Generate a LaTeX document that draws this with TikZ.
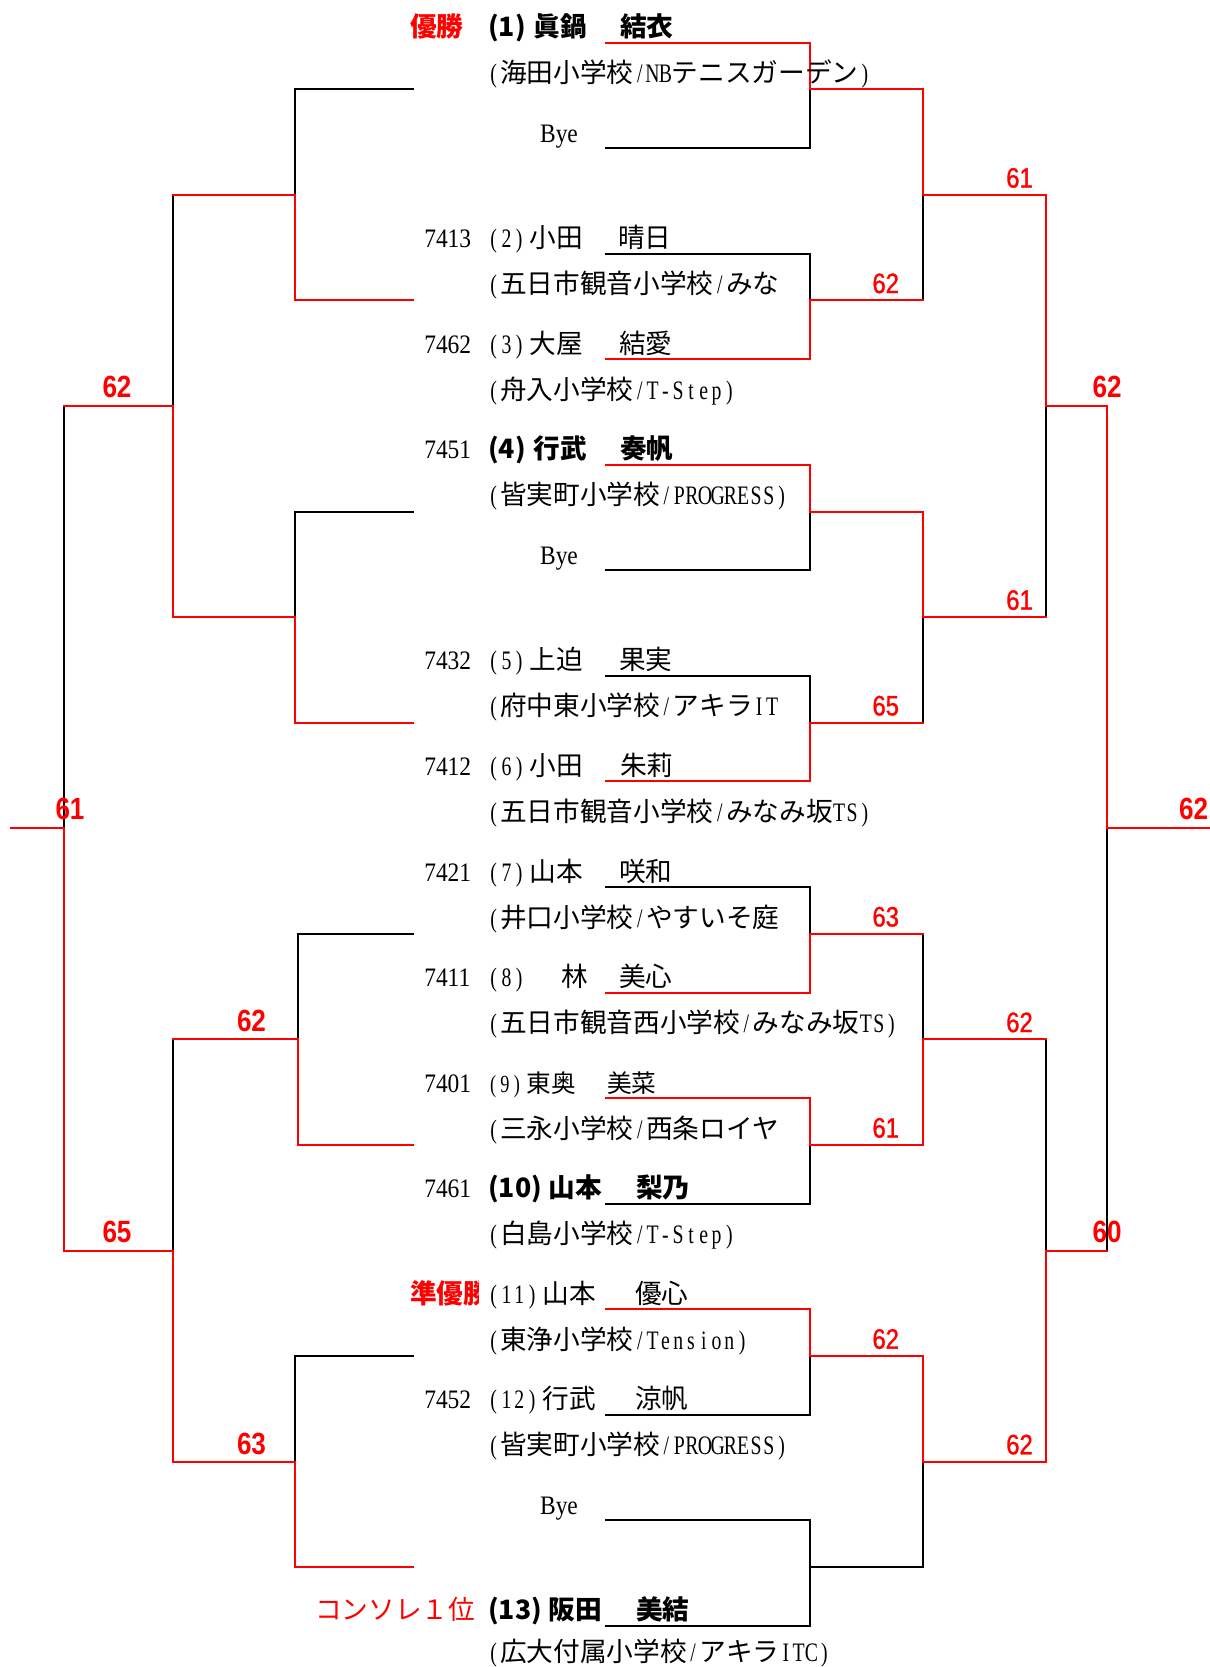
\documentclass[tikz,border=0pt]{standalone}
\usepackage{fontspec}
\newfontfamily\jp{Noto Sans CJK JP}
\newfontfamily\lat[FakeStretch=0.88]{Liberation Serif}
\newfontfamily\latc[FakeStretch=0.74]{Liberation Serif}
\newfontfamily\scf[FakeStretch=0.85,FakeBold=1.2]{Liberation Sans}
\newfontfamily\scbf[FakeStretch=0.85]{Liberation Sans Bold}
\definecolor{rd}{RGB}{255,0,0}
\makeatletter
\newcommand\mono[1]{\@tfor\@mc:=#1\do{\makebox[0.48em]{\latc\@mc}}}
\makeatother
\newcommand\sd[1]{\mono{(#1)}\kern3pt}
\tikzset{
  ln/.style={line width=1.5pt, line cap=rect},
  bl/.style={ln, black},
  rl/.style={ln, rd},
  txt/.style={inner sep=0pt, anchor=base west, font=\jp\fontsize{20}{24}\selectfont},
  btxt/.style={txt, font=\jp\bfseries\fontsize{20}{24}\selectfont},
  stxt/.style={txt, font=\jp\fontsize{18.5}{22}\selectfont},
  idtxt/.style={inner sep=0pt, anchor=base west, font=\lat\fontsize{20}{24}\selectfont},
  byetxt/.style={inner sep=0pt, anchor=base, font=\lat\fontsize{20}{24}\selectfont},
  rlab/.style={inner sep=0pt, anchor=base west, text=rd, font=\jp\fontsize{20}{24}\selectfont},
  rblab/.style={rlab, font=\jp\bfseries\fontsize{20}{24}\selectfont},
  sc/.style={inner sep=0pt, text=rd, font=\scf\fontsize{21}{22}\selectfont},
  scb/.style={inner sep=0pt, text=rd, font=\scbf\fontsize{23}{24}\selectfont}
}
\begin{document}
\begin{tikzpicture}[x=0.75pt,y=-0.75pt]
\useasboundingbox (0,0) rectangle (1210,1667);
% ---- y levels
\foreach \k in {0,...,15} {\coordinate (S\k) at (0,{42.5+105.56*\k});}
\foreach \j in {0,...,7} {\coordinate (M\j) at (0,{89.3+211.12*\j});}
\foreach \i in {0,...,3} {\coordinate (R\i) at (0,{194.9+422.24*\i});}
\coordinate (T0) at (0,406);
\coordinate (T1) at (0,1250.5);
\coordinate (F) at (0,828.3);
% ---- x levels
\coordinate (xA) at (606,0);
\coordinate (xB) at (810,0);
\coordinate (xC) at (923,0);
\coordinate (xD) at (1046.3,0);
\coordinate (xE) at (1106.9,0);
\coordinate (xF) at (1210,0);
\coordinate (xa) at (412.6,0);
\coordinate (xb) at (294.5,0);
\coordinate (xbb) at (297.7,0);
\coordinate (xc) at (173.3,0);
\coordinate (xd) at (63.8,0);
\coordinate (xe) at (10.6,0);

% ================= black lines =================
% right side
\foreach \k in {1,2,5,6,8,11,13,14,15} {\draw[bl] (xA|-S\k) -- (xB|-S\k);}
\foreach \a/\b in {M0/S1,S2/M1,M2/S5,S6/M3,S8/M4,M5/S11,M6/S13,S14/S15} {\draw[bl] (xB|-\a) -- (xB|-\b);}
\draw[bl] (xB|-M7) -- (xC|-M7);
\foreach \a/\b in {R0/M1,R1/M3,M4/R2,R3/M7} {\draw[bl] (xC|-\a) -- (xC|-\b);}
\draw[bl] (xD|-T0) -- (xD|-R1);
\draw[bl] (xD|-R2) -- (xD|-T1);
\draw[bl] (xE|-F) -- (xE|-T1);
% left side
\foreach \j/\x in {M0/xb,M2/xb,M4/xbb,M6/xb} {\draw[bl] (xa|-\j) -- (\x|-\j);}
\foreach \a/\b/\x in {M0/R0/xb,M2/R1/xb,M4/R2/xbb,M6/R3/xb} {\draw[bl] (\x|-\a) -- (\x|-\b);}
\draw[bl] (xc|-R0) -- (xc|-T0);
\draw[bl] (xc|-R2) -- (xc|-T1);
\draw[bl] (xd|-T0) -- (xd|-F);

% ================= red lines =================
% right side
\foreach \k in {0,3,4,7,9,10,12} {\draw[rl] (xA|-S\k) -- (xB|-S\k);}
\foreach \a/\b in {S0/M0,M1/S3,S4/M2,M3/S7,M4/S9,S10/M5,S12/M6} {\draw[rl] (xB|-\a) -- (xB|-\b);}
\foreach \j in {0,...,6} {\draw[rl] (xB|-M\j) -- (xC|-M\j);}
\foreach \a/\b in {M0/R0,M2/R1,R2/M5,M6/R3} {\draw[rl] (xC|-\a) -- (xC|-\b);}
\foreach \i in {0,...,3} {\draw[rl] (xC|-R\i) -- (xD|-R\i);}
\draw[rl] (xD|-R0) -- (xD|-T0);
\draw[rl] (xD|-T1) -- (xD|-R3);
\draw[rl] (xD|-T0) -- (xE|-T0);
\draw[rl] (xD|-T1) -- (xE|-T1);
\draw[rl] (xE|-T0) -- (xE|-F);
\draw[rl] (xE|-F) -- (xF|-F);
% left side
\foreach \j/\x in {M1/xb,M3/xb,M5/xbb,M7/xb} {\draw[rl] (xa|-\j) -- (\x|-\j);}
\foreach \a/\b/\x in {R0/M1/xb,R1/M3/xb,R2/M5/xbb,R3/M7/xb} {\draw[rl] (\x|-\a) -- (\x|-\b);}
\foreach \i/\x in {R0/xb,R1/xb,R2/xbb,R3/xb} {\draw[rl] (\x|-\i) -- (xc|-\i);}
\draw[rl] (xc|-T0) -- (xc|-R1);
\draw[rl] (xc|-T1) -- (xc|-R3);
\draw[rl] (xc|-T0) -- (xd|-T0);
\draw[rl] (xc|-T1) -- (xd|-T1);
\draw[rl] (xd|-F) -- (xd|-T1);
\draw[rl] (xd|-F) -- (xe|-F);

% ================= scores =================
\node[sc] (c1) at (885.7,283.4) {62};
\node[sc] (c2) at (885.7,705.7) {65};
\node[sc] (c3) at (885.7,916.8) {63};
\node[sc] (c4) at (885.7,1127.9) {61};
\node[sc] (c5) at (885.7,1339) {62};
\node[sc] (d1) at (1019.5,177.9) {61};
\node[sc] (d2) at (1019.5,600.1) {61};
\node[sc] (d3) at (1019.5,1022.4) {62};
\node[sc] (d4) at (1019.5,1444.6) {62};
\node[scb] (e1) at (1107,387) {62};
\node[scb] (e2) at (1107,1231.5) {60};
\node[scb] (f1) at (1193.5,809.3) {62};
\node[scb] (l1) at (251.5,1021.4) {62};
\node[scb] (l2) at (251.5,1443.6) {63};
\node[scb] (l3) at (117,387) {62};
\node[scb] (l4) at (117,1231.5) {65};
\node[scb] (l5) at (70,809.3) {61};

% ================= players =================
% slot 0
\node[rblab] (w0) at (410,36.5) {優勝};
\node[btxt] (n0) at (488,36.5) {(1)\kern6pt眞鍋};
\node[btxt] (g0) at (620,36.5) {結衣};
\node[txt] (h0) at (487,82.5) {\mono{(}海田小学校\mono{/NB}テニスガーデン\mono{)}};
% slot 1
\node[byetxt] (b1) at (559,142) {Bye};
% slot 2
\node[idtxt] (i2) at (424,247.6) {7413};
\node[txt] (n2) at (487,247.6) {\sd{2}小田};
\node[txt] (g2) at (618,247.6) {晴日};
\node[txt] (h2) at (487,293.6) {\mono{(}五日市観音小学校\mono{/}みな};
% slot 3
\node[idtxt] (i3) at (424,353.2) {7462};
\node[txt] (n3) at (487,353.2) {\sd{3}大屋};
\node[txt] (g3) at (619,353.2) {結愛};
\node[txt] (h3) at (487,399.2) {\mono{(}舟入小学校\mono{/T-Step)}};
% slot 4
\node[idtxt] (i4) at (424,458.7) {7451};
\node[btxt] (n4) at (488,458.7) {(4)\kern6pt行武};
\node[btxt] (g4) at (620,458.7) {奏帆};
\node[txt] (h4) at (487,504.7) {\mono{(}皆実町小学校\mono{/PROGRESS)}};
% slot 5
\node[byetxt] (b5) at (559,564.3) {Bye};
% slot 6
\node[idtxt] (i6) at (424,669.9) {7432};
\node[txt] (n6) at (487,669.9) {\sd{5}上迫};
\node[txt] (g6) at (619,669.9) {果実};
\node[txt] (h6) at (487,715.9) {\mono{(}府中東小学校\mono{/}アキラ\mono{IT}};
% slot 7
\node[idtxt] (i7) at (424,775.4) {7412};
\node[txt] (n7) at (487,775.4) {\sd{6}小田};
\node[txt] (g7) at (620,775.4) {朱莉};
\node[txt] (h7) at (487,821.4) {\mono{(}五日市観音小学校\mono{/}みなみ坂\mono{TS)}};
% slot 8
\node[idtxt] (i8) at (424,881) {7421};
\node[txt] (n8) at (487,881) {\sd{7}山本};
\node[txt] (g8) at (619,881) {咲和};
\node[txt] (h8) at (487,927) {\mono{(}井口小学校\mono{/}やすいそ庭};
% slot 9
\node[idtxt] (i9) at (424,986.5) {7411};
\node[txt] (n9) at (487,986.5) {\mono{(8)}};
\node[txt] (k9) at (561,986.5) {林};
\node[txt] (g9) at (619,986.5) {美心};
\node[txt] (h9) at (487,1032.5) {\mono{(}五日市観音西小学校\mono{/}みなみ坂\mono{TS)}};
% slot 10
\node[idtxt] (i10) at (424,1092.1) {7401};
\node[stxt] (n10) at (487,1092.1) {\sd{9}東奥};
\node[stxt] (g10) at (607,1092.1) {美菜};
\node[txt] (h10) at (487,1138.1) {\mono{(}三永小学校\mono{/}西条ロイヤ};
% slot 11
\node[idtxt] (i11) at (424,1197.7) {7461};
\node[btxt] (n11) at (488,1197.7) {(10)\kern5pt山本};
\node[btxt] (g11) at (636,1197.7) {梨乃};
\node[txt] (h11) at (487,1243.7) {\mono{(}白島小学校\mono{/T-Step)}};
% slot 12
\begin{scope}
\clip (400,1270) rectangle (478,1320);
\node[rblab] (w12) at (410,1303.2) {準優勝};
\end{scope}
\node[txt] (n12) at (487,1303.2) {\sd{11}山本};
\node[txt] (g12) at (635,1303.2) {優心};
\node[txt] (h12) at (487,1349.2) {\mono{(}東浄小学校\mono{/Tension)}};
% slot 13
\node[idtxt] (i13) at (424,1408.8) {7452};
\node[txt] (n13) at (487,1408.8) {\sd{12}行武};
\node[txt] (g13) at (635,1408.8) {涼帆};
\node[txt] (h13) at (487,1454.8) {\mono{(}皆実町小学校\mono{/PROGRESS)}};
% slot 14
\node[byetxt] (b14) at (559,1514.3) {Bye};
% slot 15
\node[rlab] (w15) at (315,1619.9) {コンソレ１位};
\node[btxt] (n15) at (488,1619.9) {(13)\kern5pt阪田};
\node[btxt] (g15) at (636,1619.9) {美結};
\node[txt] (h15) at (487,1661) {\mono{(}広大付属小学校\mono{/}アキラ\mono{ITC)}};
\end{tikzpicture}
\end{document}
